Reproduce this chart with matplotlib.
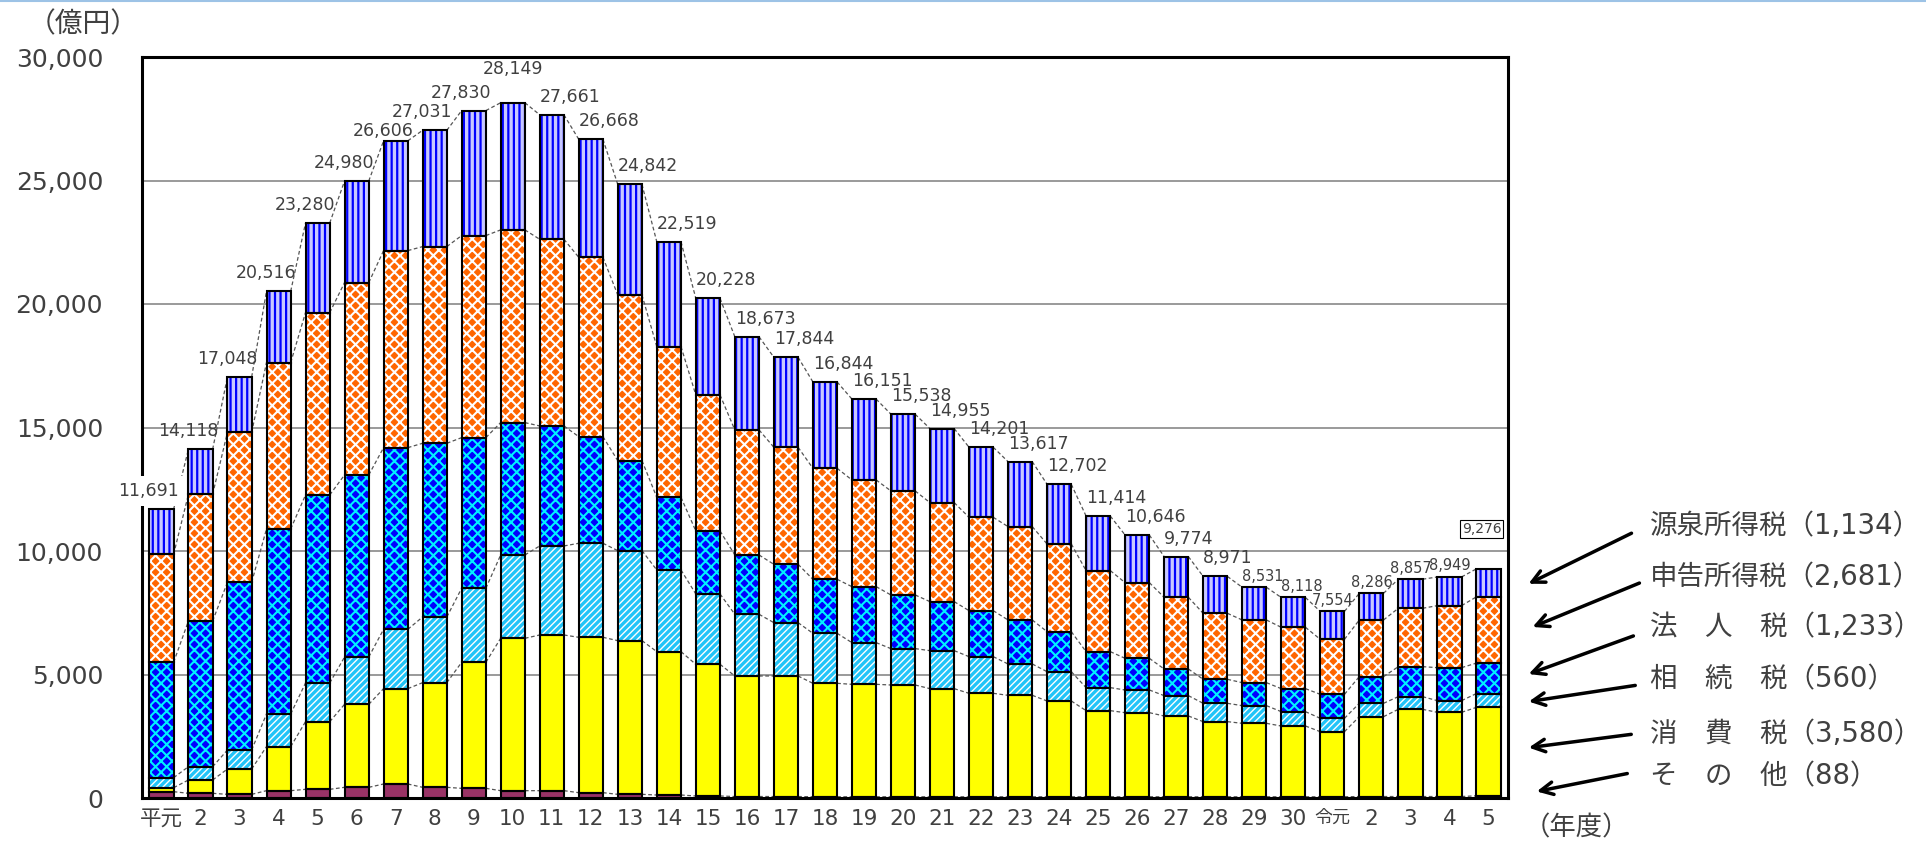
import matplotlib
matplotlib.use('Agg')
import matplotlib.pyplot as plt
from matplotlib.lines import Line2D
import numpy as np

plt.rcParams['font.family'] = ['DejaVu Sans', 'Noto Sans CJK JP']

# 年度
years = ['平元', '2', '3', '4', '5', '6', '7', '8', '9', '10', '11', '12', '13', '14', '15',
         '16', '17', '18', '19', '20', '21', '22', '23', '24', '25', '26', '27', '28', '29', '30',
         '令元', '2', '3', '4', '5']

# 税目別（億円）
sonota = [256, 189, 148, 297, 351, 432, 567, 432, 391, 297, 297, 216, 148, 121, 81,
          60, 60, 50, 50, 50, 50, 50, 50, 50, 50, 50, 50, 50, 50, 50,
          50, 60, 60, 60, 88]
shohi = [162, 540, 1026, 1782, 2740, 3361, 3860, 4238, 5102, 6168, 6303, 6290, 6223, 5804, 5331,
         4880, 4880, 4593, 4552, 4525, 4377, 4188, 4107, 3878, 3486, 3405, 3270, 3041, 2973, 2865,
         2636, 3233, 3530, 3409, 3580]
sozoku = [405, 540, 770, 1322, 1566, 1916, 2402, 2659, 2997, 3374, 3604, 3806, 3644, 3307, 2848,
          2497, 2159, 2025, 1688, 1472, 1539, 1485, 1269, 1187, 932, 918, 824, 742, 716, 581,
          540, 540, 513, 472, 560]
hojin = [4670, 5898, 6789, 7491, 7612, 7370, 7356, 7032, 6100, 5359, 4859, 4319, 3644, 2942, 2551,
         2402, 2362, 2186, 2267, 2173, 1984, 1862, 1781, 1620, 1457, 1282, 1079, 972, 931, 931,
         972, 1080, 1215, 1336, 1233]
shinkoku = [4373, 5129, 6073, 6735, 7383, 7788, 7977, 7963, 8180, 7802, 7558, 7262, 6708, 6101, 5507,
            5062, 4738, 4495, 4319, 4211, 4008, 3779, 3780, 3550, 3280, 3064, 2902, 2672, 2537, 2484,
            2227, 2294, 2362, 2511, 2681]
gensen = [1825, 1822, 2242, 2889, 3628, 4113, 4444, 4707, 5060, 5149, 5040, 4775, 4475, 4244, 3910,
          3772, 3645, 3495, 3275, 3107, 2997, 2837, 2630, 2417, 2209, 1927, 1649, 1494, 1324, 1207,
          1129, 1079, 1177, 1161, 1134]

series = [sonota, shohi, sozoku, hojin, shinkoku, gensen]
names = ['そ　の　他', '消　費　税', '相　続　税', '法　人　税', '申告所得税', '源泉所得税']
# face, hatch, hatch colour, hatch linewidth
styles = [('#993366', None, None, 0),
          ('#FFFF00', None, None, 0),
          ('#FFFFFF', '/////', '#22C4F8', 2.4),
          ('#0000FF', 'xxx', '#00F0FF', 1.5),
          ('#FF6600', 'xxx', '#FFFFFF', 1.5),
          ('#C8C8FF', '|||', '#0000FF', 1.6)]

W, H = 1926, 844
fig = plt.figure(figsize=(W / 100, H / 100), dpi=100)
ax = fig.add_axes([142 / W, 1 - 798 / H, (1508 - 142) / W, (798 - 57) / H])

x = np.arange(len(years))
w = 0.62
bottom = np.zeros(len(years))
tops = []
for vals, (fc, hatch, hc, hlw) in zip(series, styles):
    vals = np.array(vals, dtype=float)
    ax.bar(x, vals, w, bottom=bottom, color=fc, linewidth=0, zorder=2)
    if hatch:
        with plt.rc_context({'hatch.linewidth': hlw}):
            bars = ax.bar(x, vals, w, bottom=bottom, fill=False, hatch=hatch,
                          edgecolor=hc, linewidth=0, zorder=3)
        for b in bars:
            if hasattr(b, 'set_hatch_linewidth'):
                b.set_hatch_linewidth(hlw)
    ax.bar(x, vals, w, bottom=bottom, fill=False, edgecolor='black', linewidth=1.5, zorder=4)
    bottom = bottom + vals
    tops.append(bottom.copy())

# 系列線
for lvl in tops:
    xs, ys = [], []
    for i in range(len(x) - 1):
        xs += [x[i] + w / 2, x[i + 1] - w / 2, np.nan]
        ys += [lvl[i], lvl[i + 1], np.nan]
    ax.plot(xs, ys, color='#555555', lw=0.9, ls=(0, (3, 2)), zorder=2.5)

# 合計ラベル
totals = tops[-1]
grey = '#404040'
for i, t in enumerate(totals):
    lab = f'{int(round(t)):,}'
    if i == len(totals) - 1:
        ax.annotate(lab, (x[i], t), xytext=(-5, 29), textcoords='offset points',
                    ha='center', va='center', fontsize=10, color=grey, zorder=10,
                    bbox=dict(boxstyle='square,pad=0.15', fc='white', ec='black', lw=0.8))
        continue
    small = 28 <= i <= 33
    fs = 10.5 if small else 12.5
    dy = 8 if small else 13
    if i < 9:
        xy, ha, dx = (x[i] + w / 2, t), 'right', 4
        if i == 6:
            dy = 7
    elif i == 9:
        xy, ha, dx, dy = (x[i], t), 'center', 0, 24
    elif i >= 30:
        xy, ha, dx = (x[i], t), 'center', 0
    else:
        xy, ha, dx = (x[i] - w / 2, t), 'left', 0
    kw = {}
    if i == 0:
        kw['bbox'] = dict(boxstyle='square,pad=0.35', fc='white', ec='none')
    ax.annotate(lab, xy, xytext=(dx, dy), textcoords='offset points', ha=ha, va='center',
                fontsize=fs, color=grey, zorder=10, annotation_clip=False, **kw)

ax.set_xlim(-0.5, len(years) - 0.5)
ax.set_ylim(0, 30000)
ax.set_yticks(np.arange(0, 30001, 5000))
ax.set_yticklabels([f'{v:,}' for v in range(0, 30001, 5000)], fontsize=18, color=grey)
ax.set_xticks(x)
ax.set_xticklabels(years, fontsize=15.5, color=grey)
for lab in ax.get_xticklabels():
    if lab.get_text() == '令元':
        lab.set_fontsize(13)
ax.tick_params(axis='y', length=0, pad=28)
ax.tick_params(axis='x', length=0, pad=8)
ax.yaxis.grid(True, color='#7F7F7F', lw=1.1, zorder=0)
ax.set_axisbelow(True)
for s in ax.spines.values():
    s.set_linewidth(2.2)
    s.set_color('black')
    s.set_zorder(6)

# 凡例（矢印）
legend_y = [776, 734, 679, 627, 577, 526]
arrows = [((1630, 773), (1534, 792)),
          ((1634, 734), (1526, 748)),
          ((1638, 685), (1526, 702)),
          ((1636, 635), (1526, 675)),
          ((1642, 582), (1530, 628)),
          ((1634, 532), (1526, 585))]
for name, vals, ly, (tail, head) in zip(names, series, legend_y, arrows):
    fig.text(1650 / W, 1 - ly / H, f'{name}（{vals[-1]:,}）', fontsize=19.8, color=grey,
             ha='left', va='center')
    ax.annotate('', xy=(head[0] / W, 1 - head[1] / H), xycoords='figure fraction',
                xytext=(tail[0] / W, 1 - tail[1] / H), textcoords='figure fraction',
                arrowprops=dict(arrowstyle='->,head_length=0.9,head_width=0.45',
                                lw=2.5, color='black'))

fig.text(83 / W, 1 - 24 / H, '（億円）', fontsize=20, color=grey, ha='center', va='center')
fig.text(1576 / W, 1 - 828 / H, '（年度）', fontsize=19, color=grey, ha='center', va='center')
fig.add_artist(Line2D([0, 1], [1 - 1 / H, 1 - 1 / H], transform=fig.transFigure,
                      color='#9DC3E6', lw=1.5))

fig.savefig('out.png', dpi=100)
